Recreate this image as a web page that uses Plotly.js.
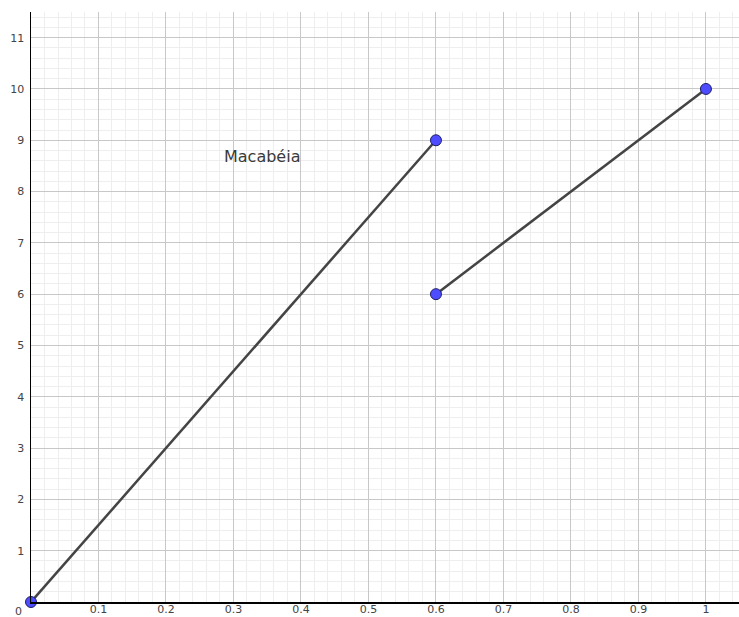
<!DOCTYPE html>
<html>
<head>
<meta charset="utf-8">
<script src="https://cdn.plot.ly/plotly-3.0.1.min.js"></script>
<style>
  html, body { margin: 0; padding: 0; background: #ffffff; }
  #graph { width: 739px; height: 617px; }
</style>
</head>
<body>
<div id="graph"></div>
<script>
// Two segments drawn between their end points
const segAX = [0, 0.6];
const segAY = [0, 9];
const segBX = [0.6, 1];
const segBY = [6, 10];

// Axis tick labels
const xTickVals = [0.1, 0.2, 0.3, 0.4, 0.5, 0.6, 0.7, 0.8, 0.9, 1];
const xTickText = ['0.1', '0.2', '0.3', '0.4', '0.5', '0.6', '0.7', '0.8', '0.9', '1'];
const yTickVals = [1, 2, 3, 4, 5, 6, 7, 8, 9, 10, 11];
const yTickText = ['1', '2', '3', '4', '5', '6', '7', '8', '9', '10', '11'];
const originText = '0';

// Text label placed on the plane
const labelText = 'Macabéia';
const labelX = 0.342;
const labelY = 8.69;

const lineStyle = { color: '#444444', width: 2.5 };
const markerStyle = { color: '#4d4dff', size: 11, line: { color: '#1e1e66', width: 1 } };

const traces = [
  { x: segAX, y: segAY, mode: 'lines+markers', line: lineStyle, marker: markerStyle,
    cliponaxis: false, hoverinfo: 'none', showlegend: false },
  { x: segBX, y: segBY, mode: 'lines+markers', line: lineStyle, marker: markerStyle,
    cliponaxis: false, hoverinfo: 'none', showlegend: false }
];

const tickFont = { family: 'DejaVu Sans, sans-serif', size: 11, color: '#444444' };

const layout = {
  width: 739,
  height: 617,
  margin: { l: 31, r: 0, t: 12, b: 15 },
  paper_bgcolor: '#ffffff',
  plot_bgcolor: '#ffffff',
  xaxis: {
    range: [0, 1.049],
    tickmode: 'array',
    tickvals: xTickVals,
    ticktext: xTickText,
    ticks: '',
    tickfont: tickFont,
    ticklabelstandoff: -4,
    showgrid: true,
    gridcolor: '#c8c8c8',
    gridwidth: 1,
    minor: { tick0: 0, dtick: 0.02, showgrid: true, gridcolor: '#eeeeee', gridwidth: 1 },
    zeroline: false,
    showline: true,
    linecolor: '#000000',
    linewidth: 1.5,
    fixedrange: true
  },
  yaxis: {
    range: [0, 11.5],
    tickmode: 'array',
    tickvals: yTickVals,
    ticktext: yTickText,
    ticks: '',
    tickfont: tickFont,
    ticklabelstandoff: 3,
    showgrid: true,
    gridcolor: '#c8c8c8',
    gridwidth: 1,
    minor: { tick0: 0, dtick: 0.2, showgrid: true, gridcolor: '#eeeeee', gridwidth: 1 },
    zeroline: false,
    showline: true,
    linecolor: '#000000',
    linewidth: 1.5,
    fixedrange: true
  },
  annotations: [
    { x: labelX, y: labelY, xref: 'x', yref: 'y', text: labelText, showarrow: false,
      font: { family: 'DejaVu Sans, sans-serif', size: 16, color: '#3a3a3a' } },
    { x: 0, y: 0, xref: 'x', yref: 'y', text: originText, showarrow: false,
      xanchor: 'center', yanchor: 'top', xshift: -13, yshift: -1,
      font: tickFont }
  ]
};

Plotly.newPlot('graph', traces, layout, { displayModeBar: false, staticPlot: true });
</script>
</body>
</html>
